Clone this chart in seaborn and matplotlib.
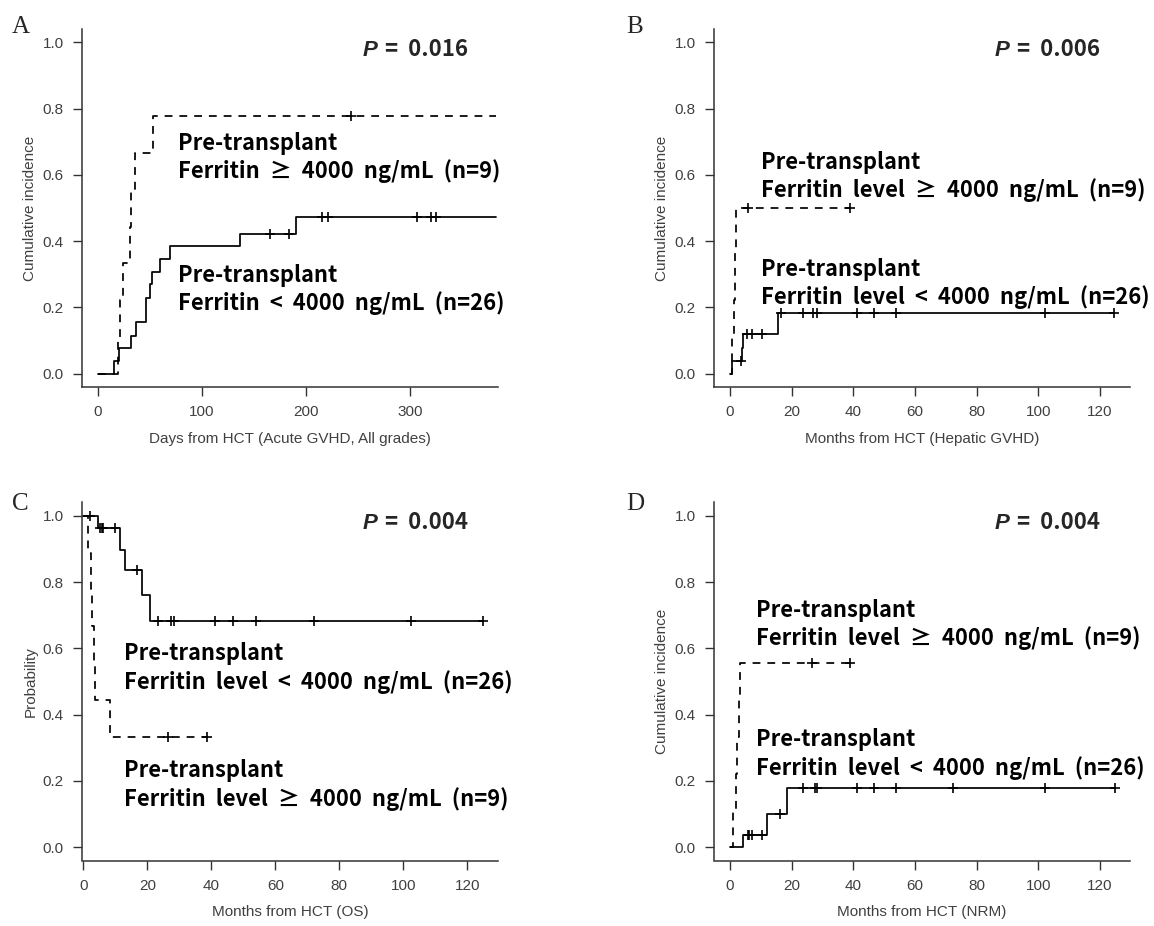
import numpy as np
import matplotlib.pyplot as plt
import seaborn as sns

# ---- A: acute GVHD (days) ----
a_lo_t = [0, 15.5, 20.4, 32, 37, 46.6, 49.8, 52.3, 59.3, 69.5, 136.5, 190]
a_lo_v = [0, 0.039, 0.077, 0.115, 0.155, 0.23, 0.27, 0.306, 0.346, 0.385, 0.423, 0.474]
a_lo_end = 383
a_lo_cens = [165, 183.7, 215, 221, 306.5, 320, 324.7]
a_hi_t = [0, 19, 21.5, 24, 30.6, 32, 35.4, 53]
a_hi_v = [0, 0.111, 0.222, 0.333, 0.444, 0.556, 0.667, 0.778]
a_hi_end = 383
a_hi_cens = [243]

# ---- B: hepatic GVHD (months) ----
b_lo_t = [0, 0.5, 3.8, 4.3, 15.4]
b_lo_v = [0, 0.038, 0.079, 0.119, 0.184]
b_lo_end = 124.5
b_lo_cens = [3.5, 5.4, 7.0, 10.3, 16.4, 23.5, 26.8, 28.1, 41.1, 46.7, 53.8, 102.2, 124.5]
b_hi_t = [0, 0.7, 1.2, 1.6, 2.0]
b_hi_v = [0, 0.111, 0.222, 0.375, 0.5]
b_hi_end = 39
b_hi_cens = [5.9, 39]

# ---- C: overall survival (months) ----
c_lo_t = [0, 4.7, 11.5, 13, 18.5, 20.8]
c_lo_v = [1.0, 0.962, 0.898, 0.836, 0.76, 0.683]
c_lo_end = 124.8
c_lo_cens = [2.1, 5.3, 5.7, 6.1, 9.9, 16.7, 23.2, 27.5, 28.2, 41.2, 46.7, 54.0, 72.1, 102.3, 124.8]
c_hi_t = [0, 1.6, 2.4, 2.8, 3.2, 3.6, 8.3]
c_hi_v = [1.0, 0.889, 0.778, 0.667, 0.556, 0.444, 0.333]
c_hi_end = 38.6
c_hi_cens = [26.6, 38.6]

# ---- D: NRM (months) ----
d_lo_t = [0, 4.3, 11.9, 18.6]
d_lo_v = [0, 0.038, 0.101, 0.178]
d_lo_end = 124.9
d_lo_cens = [5.9, 6.3, 7.0, 10.3, 16.2, 23.6, 27.6, 28.2, 41.3, 46.7, 53.8, 72.2, 102.2, 124.9]
d_hi_t = [0, 1.1, 2.0, 2.4, 2.8, 3.2]
d_hi_v = [0, 0.111, 0.222, 0.333, 0.444, 0.556]
d_hi_end = 38.9
d_hi_cens = [26.5, 38.9]

p_values = ['0.016', '0.006', '0.004', '0.004']
panel_letters = ['A', 'B', 'C', 'D']
x_labels = ['Days from HCT (Acute GVHD, All grades)', 'Months from HCT (Hepatic GVHD)',
            'Months from HCT (OS)', 'Months from HCT (NRM)']
y_labels = ['Cumulative incidence', 'Cumulative incidence', 'Probability', 'Cumulative incidence']

sns.set_style('ticks')
plt.rcParams['font.family'] = ['Liberation Sans', 'DejaVu Sans']

AX = '#333333'
TXT = '#404040'
KFONT = ['Noto Sans CJK KR', 'DejaVu Sans']

fig = plt.figure(figsize=(11.54, 9.26), dpi=100)
W, H = 1154, 926


def make_ax(left, bottom):
    ax = fig.add_axes([left / W, 1 - bottom / H, 416 / W, 358 / H])
    sns.despine(ax=ax)
    for s in ['left', 'bottom']:
        ax.spines[s].set_color(AX)
        ax.spines[s].set_linewidth(1.1)
    ax.tick_params(direction='out', length=6.5, width=1.0, colors=AX, labelcolor=TXT,
                   labelsize=11, pad=6.5)
    ax.set_ylim(-0.04, 1.04)
    ax.set_yticks([0, 0.2, 0.4, 0.6, 0.8, 1.0])
    ax.set_yticklabels(['0.0', '0.2', '0.4', '0.6', '0.8', '1.0'])
    return ax


def draw_curve(ax, t, v, end, cens, dashed):
    x = list(t) + [end]
    y = list(v) + [v[-1]]
    ls = (0, (4.5, 4)) if dashed else '-'
    sns.lineplot(x=x, y=y, drawstyle='steps-post', estimator=None, sort=False,
                 color='black', lw=1.25, linestyle=ls, ax=ax)
    idx = np.searchsorted(t, cens, side='right') - 1
    cy = np.array(v)[idx]
    sns.scatterplot(x=cens, y=cy, marker='+', s=55, color='black', linewidth=1.2, ax=ax)


def group_label(ax, x, y, line1, line2):
    kw = dict(family=KFONT, weight='bold', fontsize=15.8, color='black', ha='left', va='baseline')
    ax.text(x, y, line1, **kw)
    # the source figure sets words apart with wide gaps
    ax.text(x, y - 0.086, line2.replace(' ', '  '), **kw)


def p_label(ax, p):
    ax.text(0.675, 0.925, 'P', transform=ax.transAxes, family='Liberation Sans',
            style='italic', weight='bold', fontsize=16, va='baseline')
    ax.text(0.728, 0.925, '=  ' + p, transform=ax.transAxes, family=KFONT,
            weight='bold', fontsize=16, va='baseline')


ax_a = make_ax(82, 387)
ax_b = make_ax(714, 387)
ax_c = make_ax(82, 860.5)
ax_d = make_ax(714, 860.5)

draw_curve(ax_a, a_lo_t, a_lo_v, a_lo_end, a_lo_cens, False)
draw_curve(ax_a, a_hi_t, a_hi_v, a_hi_end, a_hi_cens, True)
ax_a.set_xlim(-15.3, 384.7)
ax_a.set_xticks([0, 100, 200, 300])
group_label(ax_a, 76.8, 0.676, 'Pre-transplant', 'Ferritin \u2265 4000 ng/mL (n=9)')
group_label(ax_a, 76.8, 0.277, 'Pre-transplant', 'Ferritin < 4000 ng/mL (n=26)')

draw_curve(ax_b, b_lo_t, b_lo_v, b_lo_end, b_lo_cens, False)
draw_curve(ax_b, b_hi_t, b_hi_v, b_hi_end, b_hi_cens, True)
ax_b.set_xlim(-5.2, 129.7)
group_label(ax_b, 10.0, 0.618, 'Pre-transplant', 'Ferritin level \u2265 4000 ng/mL (n=9)')
group_label(ax_b, 10.0, 0.295, 'Pre-transplant', 'Ferritin level < 4000 ng/mL (n=26)')

draw_curve(ax_c, c_lo_t, c_lo_v, c_lo_end, c_lo_cens, False)
draw_curve(ax_c, c_hi_t, c_hi_v, c_hi_end, c_hi_cens, True)
ax_c.set_xlim(-0.4, 129.6)
group_label(ax_c, 12.7, 0.564, 'Pre-transplant', 'Ferritin level < 4000 ng/mL (n=26)')
group_label(ax_c, 12.7, 0.211, 'Pre-transplant', 'Ferritin level \u2265 4000 ng/mL (n=9)')

draw_curve(ax_d, d_lo_t, d_lo_v, d_lo_end, d_lo_cens, False)
draw_curve(ax_d, d_hi_t, d_hi_v, d_hi_end, d_hi_cens, True)
ax_d.set_xlim(-5.2, 129.7)
group_label(ax_d, 8.4, 0.696, 'Pre-transplant', 'Ferritin level \u2265 4000 ng/mL (n=9)')
group_label(ax_d, 8.4, 0.304, 'Pre-transplant', 'Ferritin level < 4000 ng/mL (n=26)')

for ax in [ax_b, ax_c, ax_d]:
    ax.set_xticks([0, 20, 40, 60, 80, 100, 120])

for ax, p, xl, yl in zip([ax_a, ax_b, ax_c, ax_d], p_values, x_labels, y_labels):
    p_label(ax, p)
    ax.set_xlabel(xl, fontsize=11, color=TXT, labelpad=9)
    ax.set_ylabel(yl, fontsize=11, color=TXT, labelpad=4)

for letter, (lx, ly) in zip(panel_letters, [(12, 33), (626, 33), (12, 510), (626, 510)]):
    fig.text(lx / W, 1 - ly / H, letter, family='Liberation Serif', fontsize=18, va='baseline')

fig.savefig('out.png', dpi=100)
